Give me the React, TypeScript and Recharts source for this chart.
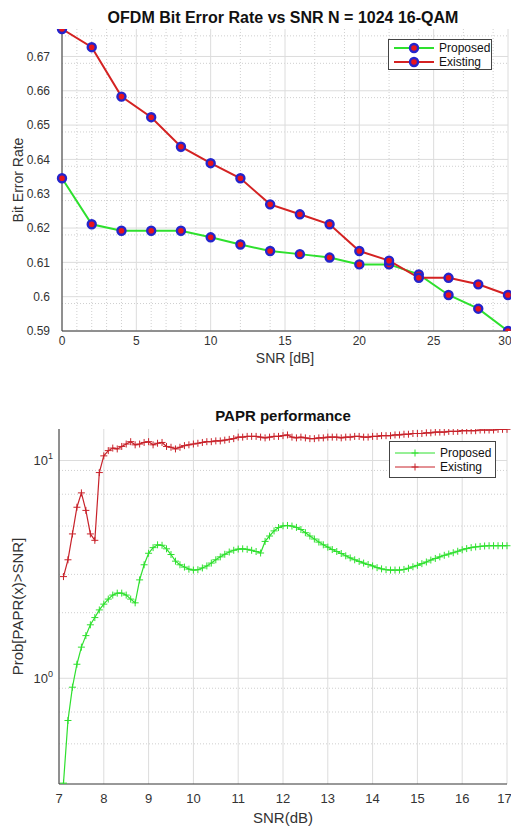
import React from "react";
import { LineChart, Line, XAxis, YAxis, CartesianGrid, Label } from "recharts";

// BER vs SNR (top plot)
const berSnr = [0, 2, 4, 6, 8, 10, 12, 14, 16, 18, 20, 22, 24, 26, 28, 30];
const berProposed = [0.6345, 0.6211, 0.6192, 0.6192, 0.6192, 0.6173, 0.6152, 0.6133, 0.6124, 0.6114, 0.6094, 0.6094, 0.6065, 0.6005, 0.5965, 0.59];
const berExisting = [0.678, 0.6727, 0.6583, 0.6523, 0.6437, 0.6389, 0.6345, 0.6269, 0.624, 0.6211, 0.6133, 0.6105, 0.6055, 0.6055, 0.6036, 0.6005];
const berTicksX = [0, 5, 10, 15, 20, 25, 30];
const berMinorX = [1, 2, 3, 4, 6, 7, 8, 9, 11, 12, 13, 14, 16, 17, 18, 19, 21, 22, 23, 24, 26, 27, 28, 29];
const berTicksY = [0.59, 0.6, 0.61, 0.62, 0.63, 0.64, 0.65, 0.66, 0.67];
const berMinorY = [0.592, 0.594, 0.596, 0.598, 0.602, 0.604, 0.606, 0.608, 0.612, 0.614, 0.616, 0.618, 0.622, 0.624, 0.626, 0.628, 0.632, 0.634, 0.636, 0.638, 0.642, 0.644, 0.646, 0.648, 0.652, 0.654, 0.656, 0.658, 0.662, 0.664, 0.666, 0.668, 0.672, 0.674, 0.676];

// PAPR (bottom plot)
const paprSnr = [
  7.1, 7.2, 7.3, 7.4, 7.5, 7.6, 7.7, 7.8, 7.9, 8.0, 8.1, 8.2, 8.3, 8.4, 8.5, 8.6, 8.7, 8.8, 8.9, 9.0,
  9.1, 9.2, 9.3, 9.4, 9.5, 9.6, 9.7, 9.8, 9.9, 10.0, 10.1, 10.2, 10.3, 10.4, 10.5, 10.6, 10.7, 10.8, 10.9, 11.0,
  11.1, 11.2, 11.3, 11.4, 11.5, 11.6, 11.7, 11.8, 11.9, 12.0, 12.1, 12.2, 12.3, 12.4, 12.5, 12.6, 12.7, 12.8, 12.9, 13.0,
  13.1, 13.2, 13.3, 13.4, 13.5, 13.6, 13.7, 13.8, 13.9, 14.0, 14.1, 14.2, 14.3, 14.4, 14.5, 14.6, 14.7, 14.8, 14.9, 15.0,
  15.1, 15.2, 15.3, 15.4, 15.5, 15.6, 15.7, 15.8, 15.9, 16.0, 16.1, 16.2, 16.3, 16.4, 16.5, 16.6, 16.7, 16.8, 16.9, 17.0,
];
const paprProposed = [
  0.33, 0.64, 0.91, 1.16, 1.39, 1.57, 1.76, 1.9, 2.06, 2.19, 2.31, 2.41, 2.46, 2.46, 2.41, 2.31, 2.22, 2.83, 3.32, 3.75,
  3.98, 4.1, 4.08, 3.93, 3.7, 3.45, 3.32, 3.24, 3.17, 3.14, 3.15, 3.21, 3.28, 3.38, 3.5, 3.61, 3.71, 3.8, 3.87, 3.92,
  3.93, 3.91, 3.87, 3.82, 3.76, 4.25, 4.5, 4.75, 4.92, 5.01, 5.03, 5.0, 4.93, 4.82, 4.66, 4.5, 4.36, 4.22, 4.1, 4.0,
  3.9, 3.82, 3.74, 3.65, 3.57, 3.5, 3.44, 3.38, 3.33, 3.28, 3.22, 3.18, 3.15, 3.14, 3.14, 3.14, 3.16, 3.2, 3.25, 3.3,
  3.36, 3.42, 3.49, 3.55, 3.61, 3.67, 3.72, 3.77, 3.83, 3.89, 3.94, 3.98, 4.01, 4.03, 4.05, 4.06, 4.06, 4.06, 4.06, 4.06,
];
const paprExisting = [
  2.93, 3.5, 4.6, 6.1, 7.1, 5.9, 4.6, 4.3, 8.8, 10.5, 11.1, 11.4, 11.3, 11.6, 11.9, 12.2, 11.8, 11.9, 12.1, 12.2,
  11.8, 12.0, 12.1, 11.6, 11.5, 11.3, 11.5, 11.7, 11.8, 11.9, 12.0, 12.1, 12.2, 12.2, 12.3, 12.3, 12.4, 12.5, 12.6, 12.8,
  12.8, 12.9, 12.9, 12.9, 12.8, 12.7, 12.8, 12.9, 12.9, 13.0, 13.1, 12.8, 12.7, 12.8, 12.7, 12.6, 12.6, 12.7, 12.7, 12.8,
  12.8, 12.8, 12.7, 12.8, 12.8, 12.9, 12.9, 12.8, 12.8, 12.9, 12.9, 13.0, 13.0, 13.0, 13.1, 13.1, 13.2, 13.2, 13.3, 13.3,
  13.3, 13.4, 13.4, 13.5, 13.5, 13.5, 13.6, 13.6, 13.6, 13.7, 13.7, 13.7, 13.7, 13.8, 13.8, 13.8, 13.8, 13.9, 13.9, 13.9,
];
const paprTicksX = [7, 8, 9, 10, 11, 12, 13, 14, 15, 16, 17];
const paprTicksY = [1, 10];
const paprMinorY = [0.4, 0.5, 0.6, 0.7, 0.8, 0.9, 2, 3, 4, 5, 6, 7, 8, 9];

const seriesNames = ["Proposed", "Existing"];

const FONT = "'Liberation Sans', Arial, sans-serif";
const GREEN = "#2ee02e";
const RED = "#d42222";
const RED_PAPR = "#c8222a";
const TXT = "#333";

const berData = berSnr.map((s, i) => ({ snr: s, proposed: berProposed[i], existing: berExisting[i] }));
const paprData = paprSnr.map((s, i) => ({ snr: s, proposed: paprProposed[i], existing: paprExisting[i] }));

const BerDot = (props: any) => {
  const { cx, cy, index } = props;
  if (cx == null || cy == null) return <g key={index} />;
  return <circle key={index} cx={cx} cy={cy} r={4} fill="#e8141c" stroke="#2424cc" strokeWidth={2.4} />;
};

const plusDot = (color: string) => (props: any) => {
  const { cx, cy, index } = props;
  if (cx == null || cy == null) return <g key={index} />;
  return (
    <path key={index} d={`M${cx - 3.5},${cy}H${cx + 3.5}M${cx},${cy - 3.5}V${cy + 3.5}`} stroke={color} strokeWidth={1} fill="none" />
  );
};

const PowTick = (props: any) => {
  const { x, y, payload } = props;
  const exp = Math.round(Math.log10(payload.value));
  return (
    <text x={x} y={y} textAnchor="end" fill={TXT} fontSize={13} fontFamily={FONT} dy="0.35em">
      <tspan>10</tspan>
      <tspan fontSize={9} dy={-6}>{exp}</tspan>
    </text>
  );
};

function LegendBox({ left, top, width, height, colors, marker }: any) {
  return (
    <div
      style={{
        position: "absolute", left, top, width, height, boxSizing: "border-box",
        border: "1px solid #444", background: "#fff", fontFamily: FONT, fontSize: 12, color: "#111",
        display: "flex", flexDirection: "column", justifyContent: "center",
      }}
    >
      {seriesNames.map((n, i) => (
        <div key={n} style={{ display: "flex", alignItems: "center", height: 14 }}>
          <svg width={46} height={14} style={{ marginLeft: 4 }}>
            <line x1={1} x2={41} y1={7} y2={7} stroke={colors[i]} strokeWidth={marker === "circle" ? 2 : 1} />
            {marker === "circle" ? (
              <circle cx={21} cy={7} r={4} fill="#e8141c" stroke="#2424cc" strokeWidth={2.4} />
            ) : (
              <path d="M17.5,7H24.5M21,3.5V10.5" stroke={colors[i]} strokeWidth={1} />
            )}
          </svg>
          <span>{n}</span>
        </div>
      ))}
    </div>
  );
}

function BerChart() {
  return (
    <div style={{ position: "absolute", left: 0, top: 0, width: 511, height: 370 }}>
      <LineChart width={511} height={370} data={berData} margin={{ top: 29, right: 3, bottom: 0, left: 10 }}>
        <CartesianGrid stroke="#cfcfcf" strokeDasharray="1 2" horizontalValues={berMinorY} verticalValues={berMinorX} />
        <CartesianGrid stroke="#dcdcdc" horizontalValues={berTicksY} verticalValues={berTicksX} />
        <XAxis
          dataKey="snr" type="number" domain={[0, 30]} ticks={berTicksX} height={39}
          tickLine={false} tickSize={3} tickMargin={2} axisLine={{ stroke: "#333" }} tick={{ fill: TXT, fontSize: 12, fontFamily: FONT }}
        >
          <Label value="SNR [dB]" position="insideBottom" offset={7} fill={TXT} fontSize={14} fontFamily={FONT} />
        </XAxis>
        <XAxis xAxisId="top" orientation="top" type="number" domain={[0, 30]} height={0} tick={false} tickLine={false} axisLine={{ stroke: "#333" }} />
        <YAxis
          type="number" domain={[0.59, 0.678]} ticks={berTicksY} width={52} allowDataOverflow
          tickLine={false} tickMargin={6} axisLine={{ stroke: "#333" }}
          tick={{ fill: TXT, fontSize: 12, fontFamily: FONT }}
          tickFormatter={(v: number) => String(Number(v.toFixed(2)))}
        >
          <Label value="Bit Error Rate" angle={-90} position="insideLeft" offset={8} fill={TXT} fontSize={14} fontFamily={FONT} style={{ textAnchor: "middle" }} />
        </YAxis>
        <YAxis yAxisId="right" orientation="right" type="number" domain={[0, 1]} width={0} tick={false} tickLine={false} axisLine={{ stroke: "#333" }} />
        <Line dataKey="proposed" stroke={GREEN} strokeWidth={2} dot={BerDot} isAnimationActive={false} />
        <Line dataKey="existing" stroke={RED} strokeWidth={2} dot={BerDot} isAnimationActive={false} />
      </LineChart>
      <div style={{ position: "absolute", left: 0, width: 566, top: 9, textAlign: "center", fontFamily: FONT, fontWeight: "bold", fontSize: 16, color: "#111" }}>
        OFDM Bit Error Rate vs SNR N = 1024 16-QAM
      </div>
      <LegendBox left={388} top={39} width={104} height={31} colors={[GREEN, RED]} marker="circle" />
    </div>
  );
}

function PaprChart() {
  return (
    <div style={{ position: "absolute", left: 0, top: 370, width: 511, height: 457 }}>
      <LineChart width={511} height={457} data={paprData} margin={{ top: 59, right: 4, bottom: 3, left: 8 }}>
        <CartesianGrid stroke="#cfcfcf" strokeDasharray="1 2" horizontalValues={paprMinorY} vertical={false} />
        <CartesianGrid stroke="#dcdcdc" horizontalValues={paprTicksY} verticalValues={paprTicksX} />
        <XAxis
          dataKey="snr" type="number" domain={[7, 17]} ticks={paprTicksX} height={40}
          tickLine={false} tickMargin={4} axisLine={{ stroke: "#333" }} tick={{ fill: TXT, fontSize: 13, fontFamily: FONT }}
        >
          <Label value="SNR(dB)" position="insideBottom" offset={1} fill={TXT} fontSize={15} fontFamily={FONT} />
        </XAxis>
        <XAxis xAxisId="top" orientation="top" type="number" domain={[7, 17]} height={0} tick={false} tickLine={false} axisLine={{ stroke: "#333" }} />
        <YAxis
          type="number" scale="log" domain={[0.327, 13.95]} ticks={paprTicksY} width={51} allowDataOverflow
          tickLine={false} tickSize={0} tickMargin={6} axisLine={{ stroke: "#333" }} tick={<PowTick />}
        >
          <Label value="Prob[PAPR(x)>SNR]" angle={-90} position="insideLeft" offset={10} fill={TXT} fontSize={15} fontFamily={FONT} style={{ textAnchor: "middle" }} />
        </YAxis>
        <YAxis yAxisId="right" orientation="right" type="number" domain={[0, 1]} width={0} tick={false} tickLine={false} axisLine={{ stroke: "#333" }} />
        <Line dataKey="proposed" stroke={GREEN} strokeWidth={1.2} dot={plusDot(GREEN)} isAnimationActive={false} />
        <Line dataKey="existing" stroke={RED_PAPR} strokeWidth={1.2} dot={plusDot(RED_PAPR)} isAnimationActive={false} />
      </LineChart>
      <div style={{ position: "absolute", left: 0, width: 566, top: 37, textAlign: "center", fontFamily: FONT, fontWeight: "bold", fontSize: 15, color: "#111" }}>
        PAPR performance
      </div>
      <LegendBox left={389} top={71} width={107} height={37} colors={[GREEN, RED_PAPR]} marker="plus" />
    </div>
  );
}

export default function App() {
  return (
    <div style={{ position: "absolute", left: 0, top: 0, width: 511, height: 827, background: "#fff", overflow: "hidden" }}>
      <BerChart />
      <PaprChart />
    </div>
  );
}
